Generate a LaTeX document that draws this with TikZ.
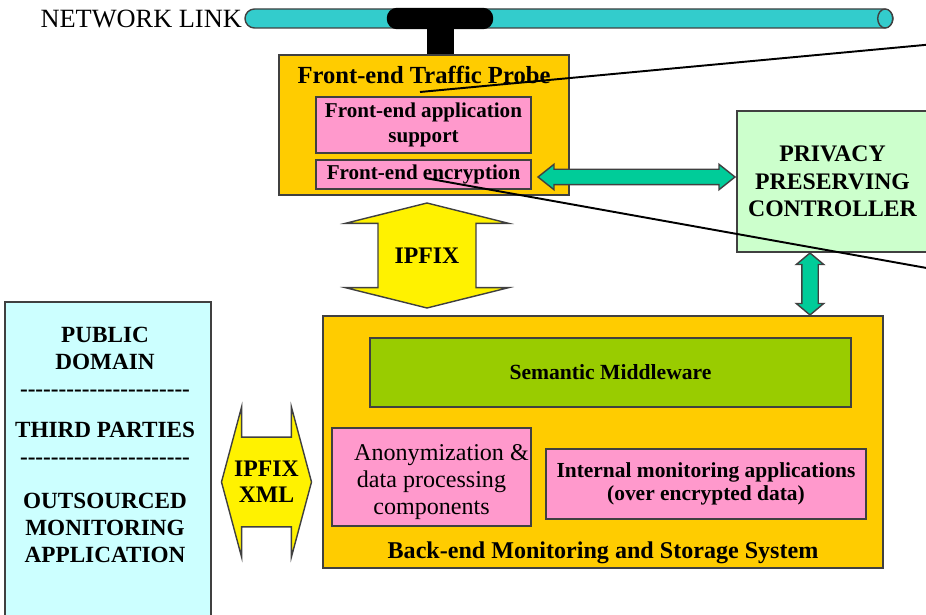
\documentclass[tikz,border=0pt]{standalone}
\usepackage{fontspec}
\setmainfont{Liberation Serif}
\usetikzlibrary{shapes.arrows}
\definecolor{amber}{RGB}{255,204,0}
\definecolor{pink}{RGB}{255,153,204}
\definecolor{mint}{RGB}{204,255,204}
\definecolor{ice}{RGB}{204,255,255}
\definecolor{lime}{RGB}{153,204,0}
\definecolor{jade}{RGB}{0,204,153}
\definecolor{pipe}{RGB}{51,204,204}

\begin{document}
\begin{tikzpicture}[%
        line width=0.8pt,
        basic/.style ={draw=black!75, inner sep=0pt, align=center},
        system/.style={basic, fill=amber},
        part/.style={basic, fill=pink, font=\fontsize{12}{14}\selectfont\bfseries},
        title/.style={font=\fontsize{13.7}{15}\selectfont\bfseries},
        caps/.style={align=center, font=\fontsize{13.2}{15.3}\selectfont\bfseries},
        fat/.style={double arrow, draw=black!75, inner sep=0pt, align=center},
        link/.style={draw=black!75, rounded corners=0.19cm, minimum height=0.38cm},
        callout/.style={black, line width=1.1pt}
        ]
        \useasboundingbox (0,0) rectangle (18.52,-12.3);
        % network link with the tap
        \node[link, fill=pipe, minimum width=12.96cm] (link) at (11.38,-0.37) {};
        \draw[draw=black!75, fill=pipe] ([xshift=-0.17cm]link.east) ellipse (0.15 and 0.19);
        \node[link, fill=black, draw=black, minimum width=2.1cm, minimum height=0.4cm] (tap) at (8.8,-0.37) {};
        \node[anchor=east, inner sep=1pt, font=\fontsize{15}{17}\selectfont] (linktxt) at (link.west) {NETWORK LINK};
        % front-end probe
        \node[system, minimum width=5.8cm, minimum height=2.8cm] (probe) at (8.48,-2.5) {};
        \draw[line width=0.54cm] (tap.center) -- (tap |- probe.north);
        \node[title, font=\fontsize{14}{15}\selectfont\bfseries] (probetxt) at (8.48,-1.5) {Front-end Traffic Probe};
        \node[part, minimum width=4.3cm, minimum height=1.12cm] (app) at (8.47,-2.5) {Front-end application\\support};
        \node[part, minimum width=4.3cm, minimum height=0.58cm] (enc) at (8.47,-3.49) {Front-end encryption};
        % controller
        \node[basic, fill=mint, minimum width=3.82cm, minimum height=2.82cm, font=\fontsize{13.5}{15.5}\selectfont\bfseries] (ppc) at (16.65,-3.63) {PRIVACY\\PRESERVING\\CONTROLLER};
        % back-end
        \node[system, minimum width=11.2cm, minimum height=5.04cm] (backend) at (12.06,-8.84) {};
        \node[basic, fill=lime, minimum width=9.62cm, minimum height=1.38cm, font=\fontsize{12.3}{14}\selectfont\bfseries] (sem) at (12.21,-7.45) {Semantic Middleware};
        \node[basic, fill=pink, minimum width=3.98cm, minimum height=1.96cm] (anon) at (8.63,-9.54) {};
        \node[align=center, inner sep=0pt, font=\fontsize{13.7}{15.3}\selectfont] (anontxt) at (8.63,-9.64) {\hspace*{0.4cm}Anonymization \&\\data processing\\components};
        \node[part, minimum width=6.4cm, minimum height=1.4cm, font=\fontsize{12.2}{13.5}\selectfont\bfseries] (intapp) at (14.12,-9.68) {Internal monitoring applications\\(over encrypted data)};
        \node[title] (backtxt) at (12.06,-11.06) {Back-end Monitoring and Storage System};
        % public domain
        \node[basic, fill=ice, minimum width=4.12cm, minimum height=6.46cm] (pub) at (2.16,-9.27) {};
        \node[caps, anchor=north] (pubtxt) at (2.1,-6.41) {PUBLIC\\DOMAIN\\\foreach \k in {1,...,22}{\mbox{-}}\\[8pt]THIRD PARTIES\\\foreach \k in {1,...,22}{\mbox{-}}\\[10pt]OUTSOURCED\\MONITORING\\APPLICATION};
        % exchanges
        \node[fat, fill=yellow, shape border rotate=90, inner xsep=0.32cm, minimum height=2.1cm, minimum width=3.24cm, double arrow head extend=0.65cm, double arrow tip angle=152, font=\fontsize{13.5}{15}\selectfont\bfseries] (ipfix) at (8.54,-5.11) {IPFIX};
        \node[fat, fill=yellow, inner ysep=0.46cm, minimum height=1.74cm, minimum width=3.0cm, double arrow head extend=0.6cm, double arrow tip angle=150, font=\fontsize{13.5}{15}\selectfont\bfseries] (xml) at (5.33,-9.64) {IPFIX\\XML};
        \node[fat, fill=jade, inner ysep=0.14cm, minimum height=3.94cm, minimum width=0.48cm, double arrow head extend=0.1cm, double arrow tip angle=77] (keys) at (12.73,-3.54) {};
        \node[fat, fill=jade, shape border rotate=90, inner xsep=0.15cm, minimum height=1.24cm, minimum width=0.52cm, double arrow head extend=0.11cm, double arrow tip angle=100] (ctrl) at (16.2,-5.68) {};
        % callout lines
        \coordinate (probein) at (8.4,-1.84);
        \coordinate (probeout) at (18.7,-0.88);
        \coordinate (encin) at (8.5,-3.56);
        \coordinate (encout) at (18.7,-5.39);
        \draw[callout] (probein) -- (probeout);
        \draw[callout] (encin) -- (encout);
    \end{tikzpicture}
\end{document}
